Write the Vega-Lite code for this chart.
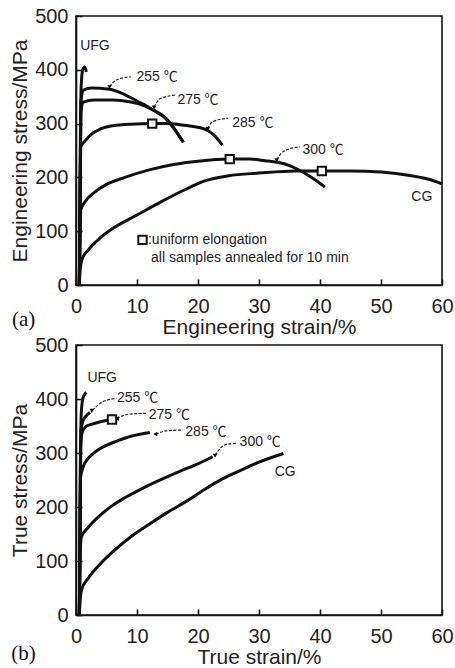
{
  "$schema": "https://vega.github.io/schema/vega-lite/v6.json",
  "padding": {"left": 8, "top": 5, "right": 2, "bottom": 2},
  "background": "white",
  "bounds": "flush",
  "spacing": 60,
  "config": {
    "view": {"stroke": "#111", "strokeWidth": 1.6},
    "axis": {"grid": false, "domainColor": "#111", "domainWidth": 1.6, "tickColor": "#111", "tickWidth": 1.6, "tickSize": -6,
      "labelFont": "Liberation Sans", "labelFontSize": 20, "labelColor": "#222", "labelFlush": false, "labelOverlap": false,
      "titleFont": "Liberation Sans", "titleFontSize": 21, "titleFontWeight": "normal", "titleColor": "#222"},
    "axisX": {"labelPadding": 17, "titlePadding": 0},
    "axisY": {"labelPadding": 14, "titlePadding": 4}
  },
  "datasets": {
    "eng": [
      {"s": "UFG", "x": 0.55, "y": 0}, {"s": "UFG", "x": 0.7, "y": 250}, {"s": "UFG", "x": 0.85, "y": 370}, {"s": "UFG", "x": 1.1, "y": 400}, {"s": "UFG", "x": 1.4, "y": 405}, {"s": "UFG", "x": 1.7, "y": 396},
      {"s": "255", "x": 0.55, "y": 0}, {"s": "255", "x": 0.8, "y": 340}, {"s": "255", "x": 1.2, "y": 362}, {"s": "255", "x": 2.5, "y": 366}, {"s": "255", "x": 5.5, "y": 364}, {"s": "255", "x": 8, "y": 354}, {"s": "255", "x": 10, "y": 342}, {"s": "255", "x": 12, "y": 330}, {"s": "255", "x": 13, "y": 323}, {"s": "255", "x": 14.5, "y": 312}, {"s": "255", "x": 16, "y": 292}, {"s": "255", "x": 17.6, "y": 265},
      {"s": "275", "x": 0.55, "y": 0}, {"s": "275", "x": 0.8, "y": 320}, {"s": "275", "x": 1.2, "y": 340}, {"s": "275", "x": 3, "y": 344}, {"s": "275", "x": 6, "y": 344}, {"s": "275", "x": 9, "y": 340}, {"s": "275", "x": 11, "y": 334}, {"s": "275", "x": 13, "y": 323}, {"s": "275", "x": 14.5, "y": 312}, {"s": "275", "x": 16, "y": 292}, {"s": "275", "x": 17.6, "y": 265},
      {"s": "285", "x": 0.55, "y": 0}, {"s": "285", "x": 0.8, "y": 257}, {"s": "285", "x": 1.5, "y": 268}, {"s": "285", "x": 2.5, "y": 280}, {"s": "285", "x": 4, "y": 290}, {"s": "285", "x": 6, "y": 296}, {"s": "285", "x": 9, "y": 299}, {"s": "285", "x": 12.5, "y": 300}, {"s": "285", "x": 15, "y": 300}, {"s": "285", "x": 17, "y": 298}, {"s": "285", "x": 19, "y": 295}, {"s": "285", "x": 21, "y": 290}, {"s": "285", "x": 22.5, "y": 280}, {"s": "285", "x": 24, "y": 260},
      {"s": "300", "x": 0.55, "y": 0}, {"s": "300", "x": 0.8, "y": 140}, {"s": "300", "x": 1.5, "y": 155}, {"s": "300", "x": 3, "y": 172}, {"s": "300", "x": 5, "y": 187}, {"s": "300", "x": 8, "y": 200}, {"s": "300", "x": 12, "y": 214}, {"s": "300", "x": 16, "y": 224}, {"s": "300", "x": 20, "y": 230}, {"s": "300", "x": 25.2, "y": 234}, {"s": "300", "x": 28.5, "y": 234}, {"s": "300", "x": 31, "y": 231}, {"s": "300", "x": 33, "y": 228}, {"s": "300", "x": 35, "y": 222}, {"s": "300", "x": 37, "y": 211}, {"s": "300", "x": 39, "y": 197}, {"s": "300", "x": 40.8, "y": 182},
      {"s": "CG", "x": 0.55, "y": 0}, {"s": "CG", "x": 0.7, "y": 30}, {"s": "CG", "x": 1, "y": 48}, {"s": "CG", "x": 2, "y": 65}, {"s": "CG", "x": 4, "y": 88}, {"s": "CG", "x": 6, "y": 105}, {"s": "CG", "x": 10, "y": 130}, {"s": "CG", "x": 14, "y": 155}, {"s": "CG", "x": 18, "y": 178}, {"s": "CG", "x": 21, "y": 193}, {"s": "CG", "x": 25, "y": 203}, {"s": "CG", "x": 30, "y": 208}, {"s": "CG", "x": 36, "y": 212}, {"s": "CG", "x": 40.3, "y": 212}, {"s": "CG", "x": 45, "y": 212}, {"s": "CG", "x": 50, "y": 210}, {"s": "CG", "x": 55, "y": 203}, {"s": "CG", "x": 58, "y": 196}, {"s": "CG", "x": 60, "y": 188}
    ],
    "engLead": [
      {"s": "255", "x": 9.0, "y": 387}, {"s": "255", "x": 6.6, "y": 381}, {"s": "255", "x": 5.5, "y": 369},
      {"s": "275", "x": 16.4, "y": 353}, {"s": "275", "x": 13.9, "y": 347}, {"s": "275", "x": 12.8, "y": 331},
      {"s": "285", "x": 24.9, "y": 310}, {"s": "285", "x": 22.4, "y": 303.5}, {"s": "285", "x": 21.6, "y": 291},
      {"s": "300", "x": 36.7, "y": 257}, {"s": "300", "x": 34, "y": 248}, {"s": "300", "x": 32.9, "y": 233}
    ],
    "engTip": [{"x": 5.5, "y": 368}, {"x": 12.8, "y": 330}, {"x": 21.6, "y": 290}, {"x": 32.9, "y": 232}],
    "engBox": [{"x": 12.5, "y": 300}, {"x": 25.2, "y": 234}, {"x": 40.3, "y": 212}, {"x": 10.9, "y": 84}],
    "engText": [
      {"t": "UFG", "x": 3.1, "y": 445}, {"t": "255 ℃", "x": 13.3, "y": 387}, {"t": "275 ℃", "x": 20.0, "y": 344},
      {"t": "285 ℃", "x": 29.0, "y": 302}, {"t": "300 ℃", "x": 40.5, "y": 251}, {"t": "CG", "x": 56.7, "y": 164}
    ],
    "engLegend": [{"t": ":uniform elongation", "x": 11.8, "y": 84}, {"t": "all samples annealed for 10 min", "x": 12.3, "y": 50}],
    "panelA": [{"t": "(a)", "x": -8.6, "y": -65}],
    "tru": [
      {"s": "UFG", "x": 0.55, "y": 0}, {"s": "UFG", "x": 0.7, "y": 250}, {"s": "UFG", "x": 0.85, "y": 370}, {"s": "UFG", "x": 1.1, "y": 400}, {"s": "UFG", "x": 1.5, "y": 410}, {"s": "UFG", "x": 1.7, "y": 412},
      {"s": "255", "x": 0.55, "y": 0}, {"s": "255", "x": 0.8, "y": 340}, {"s": "255", "x": 1.1, "y": 358}, {"s": "255", "x": 1.6, "y": 368}, {"s": "255", "x": 2.3, "y": 375},
      {"s": "275", "x": 0.55, "y": 0}, {"s": "275", "x": 0.75, "y": 310}, {"s": "275", "x": 1.0, "y": 338}, {"s": "275", "x": 1.5, "y": 348}, {"s": "275", "x": 2.5, "y": 353}, {"s": "275", "x": 4, "y": 358}, {"s": "275", "x": 5.9, "y": 362},
      {"s": "285", "x": 0.55, "y": 0}, {"s": "285", "x": 0.75, "y": 255}, {"s": "285", "x": 1.2, "y": 275}, {"s": "285", "x": 2, "y": 290}, {"s": "285", "x": 2.8, "y": 299}, {"s": "285", "x": 4.4, "y": 311}, {"s": "285", "x": 6.7, "y": 322}, {"s": "285", "x": 9, "y": 331}, {"s": "285", "x": 12.1, "y": 338},
      {"s": "300", "x": 0.55, "y": 0}, {"s": "300", "x": 0.7, "y": 120}, {"s": "300", "x": 0.9, "y": 145}, {"s": "300", "x": 2, "y": 162}, {"s": "300", "x": 4, "y": 185}, {"s": "300", "x": 6, "y": 203}, {"s": "300", "x": 8, "y": 217}, {"s": "300", "x": 11, "y": 235}, {"s": "300", "x": 14, "y": 251}, {"s": "300", "x": 17, "y": 266}, {"s": "300", "x": 20, "y": 280}, {"s": "300", "x": 22.4, "y": 293},
      {"s": "CG", "x": 0.55, "y": 0}, {"s": "CG", "x": 0.7, "y": 30}, {"s": "CG", "x": 0.9, "y": 46}, {"s": "CG", "x": 2, "y": 68}, {"s": "CG", "x": 4, "y": 95}, {"s": "CG", "x": 6, "y": 117}, {"s": "CG", "x": 9, "y": 145}, {"s": "CG", "x": 12, "y": 168}, {"s": "CG", "x": 15, "y": 190}, {"s": "CG", "x": 18, "y": 210}, {"s": "CG", "x": 21, "y": 232}, {"s": "CG", "x": 24, "y": 252}, {"s": "CG", "x": 27, "y": 268}, {"s": "CG", "x": 30, "y": 283}, {"s": "CG", "x": 34, "y": 299}
    ],
    "truLead": [
      {"s": "255", "x": 6.6, "y": 401}, {"s": "255", "x": 4.4, "y": 395}, {"s": "255", "x": 2.7, "y": 379},
      {"s": "275", "x": 11.5, "y": 373.5}, {"s": "275", "x": 8.7, "y": 372}, {"s": "275", "x": 6.7, "y": 364},
      {"s": "285", "x": 17.5, "y": 342.6}, {"s": "285", "x": 14.8, "y": 341}, {"s": "285", "x": 13.1, "y": 335},
      {"s": "300", "x": 26.3, "y": 318}, {"s": "300", "x": 24.4, "y": 315}, {"s": "300", "x": 22.8, "y": 296}
    ],
    "truTipDown": [{"x": 2.6, "y": 378}, {"x": 22.8, "y": 295}],
    "truTipLeft": [{"x": 6.7, "y": 363.5}, {"x": 13.0, "y": 335}],
    "truBox": [{"x": 5.9, "y": 362}],
    "truText": [
      {"t": "UFG", "x": 4.3, "y": 439}, {"t": "255 ℃", "x": 10.1, "y": 401}, {"t": "275 ℃", "x": 15.3, "y": 370},
      {"t": "285 ℃", "x": 21.3, "y": 339}, {"t": "300 ℃", "x": 30.2, "y": 321}, {"t": "CG", "x": 34.3, "y": 265}
    ],
    "panelB": [{"t": "(b)", "x": -8.6, "y": -72}]
  },
  "vconcat": [
    {
      "width": 366, "height": 269,
      "encoding": {
        "x": {"field": "x", "type": "quantitative", "scale": {"domain": [0, 60], "nice": false, "zero": false}, "axis": {"title": "Engineering strain/%", "values": [0, 10, 20, 30, 40, 50, 60]}},
        "y": {"field": "y", "type": "quantitative", "scale": {"domain": [0, 500], "nice": false, "zero": false}, "axis": {"title": "Engineering stress/MPa", "values": [0, 100, 200, 300, 400, 500]}}
      },
      "layer": [
        {"data": {"name": "eng"}, "mark": {"type": "line", "stroke": "#111", "strokeWidth": 3, "interpolate": "monotone", "strokeCap": "butt"}, "encoding": {"detail": {"field": "s"}}},
        {"data": {"name": "engLead"}, "mark": {"type": "line", "stroke": "#222", "strokeWidth": 1.2, "strokeDash": [3, 1.5], "interpolate": "monotone"}, "encoding": {"detail": {"field": "s"}}},
        {"data": {"name": "engTip"}, "mark": {"type": "point", "shape": "triangle-down", "filled": true, "color": "#111", "size": 22, "opacity": 1}},
        {"data": {"name": "engBox"}, "mark": {"type": "point", "shape": "square", "filled": true, "fill": "white", "stroke": "#111", "strokeWidth": 2, "size": 70, "opacity": 1}},
        {"data": {"name": "engText"}, "mark": {"type": "text", "font": "Liberation Sans, Noto Sans CJK SC", "fontSize": 14, "color": "#222", "align": "center", "baseline": "middle"}, "encoding": {"text": {"field": "t"}}},
        {"data": {"name": "engLegend"}, "mark": {"type": "text", "font": "Liberation Sans", "fontSize": 14, "color": "#222", "align": "left", "baseline": "middle"}, "encoding": {"text": {"field": "t"}}},
        {"data": {"name": "panelA"}, "mark": {"type": "text", "font": "Liberation Serif", "fontSize": 21, "color": "#111", "align": "center", "baseline": "middle"}, "encoding": {"text": {"field": "t"}}}
      ]
    },
    {
      "width": 366, "height": 270,
      "encoding": {
        "x": {"field": "x", "type": "quantitative", "scale": {"domain": [0, 60], "nice": false, "zero": false}, "axis": {"title": "True strain/%", "values": [0, 10, 20, 30, 40, 50, 60]}},
        "y": {"field": "y", "type": "quantitative", "scale": {"domain": [0, 500], "nice": false, "zero": false}, "axis": {"title": "True stress/MPa", "values": [0, 100, 200, 300, 400, 500]}}
      },
      "layer": [
        {"data": {"name": "tru"}, "mark": {"type": "line", "stroke": "#111", "strokeWidth": 3, "interpolate": "monotone", "strokeCap": "butt"}, "encoding": {"detail": {"field": "s"}}},
        {"data": {"name": "truLead"}, "mark": {"type": "line", "stroke": "#222", "strokeWidth": 1.2, "strokeDash": [3, 1.5], "interpolate": "monotone"}, "encoding": {"detail": {"field": "s"}}},
        {"data": {"name": "truTipDown"}, "mark": {"type": "point", "shape": "triangle-down", "filled": true, "color": "#111", "size": 22, "opacity": 1}},
        {"data": {"name": "truTipLeft"}, "mark": {"type": "point", "shape": "triangle-left", "filled": true, "color": "#111", "size": 22, "opacity": 1}},
        {"data": {"name": "truBox"}, "mark": {"type": "point", "shape": "square", "filled": true, "fill": "white", "stroke": "#111", "strokeWidth": 2, "size": 70, "opacity": 1}},
        {"data": {"name": "truText"}, "mark": {"type": "text", "font": "Liberation Sans, Noto Sans CJK SC", "fontSize": 14, "color": "#222", "align": "center", "baseline": "middle"}, "encoding": {"text": {"field": "t"}}},
        {"data": {"name": "panelB"}, "mark": {"type": "text", "font": "Liberation Serif", "fontSize": 21, "color": "#111", "align": "center", "baseline": "middle"}, "encoding": {"text": {"field": "t"}}}
      ]
    }
  ]
}
